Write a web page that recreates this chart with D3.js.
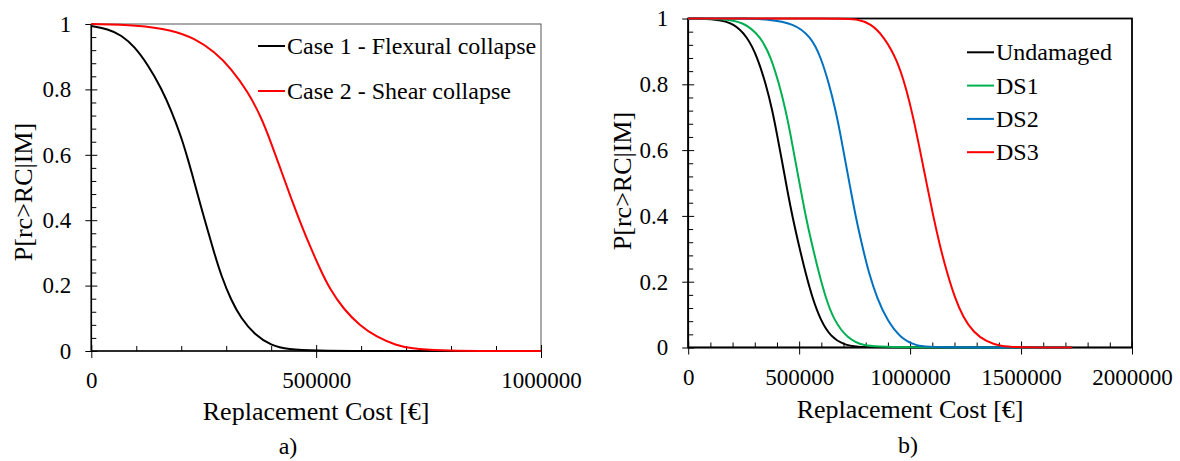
<!DOCTYPE html>
<html>
<head>
<meta charset="utf-8">
<script src="https://cdn.jsdelivr.net/npm/d3@7"></script>
<style>
  html, body { margin: 0; padding: 0; background: #fff; }
  svg { display: block; }
  text { font-family: "Liberation Serif", "Times New Roman", serif; fill: #000; }
</style>
</head>
<body>
<svg id="chart" width="1180" height="461"></svg>
<script>
// ---- Panel a) : exceedance probability of replacement cost, two collapse cases
const costA = [0, 37e3, 67e3, 96e3, 126e3, 156e3, 178e3, 200e3, 215e3, 230e3, 244e3, 259e3, 274e3, 289e3, 311e3, 333e3, 363e3, 400e3, 437e3, 500e3, 600e3, 800e3, 1e6];
const case1 = [0.994, 0.985, 0.966, 0.931, 0.875, 0.803, 0.735, 0.655, 0.586, 0.512, 0.441, 0.368, 0.297, 0.230, 0.155, 0.100, 0.050, 0.017, 0.005, 0.001, 0, 0, 0];

const costA2 = [0, 104e3, 178e3, 230e3, 274e3, 311e3, 348e3, 378e3, 400e3, 422e3, 444e3, 467e3, 489e3, 508e3, 530e3, 561e3, 597e3, 634e3, 679e3, 708e3, 782e3, 850e3, 1e6];
const case2 = [1.0, 0.997, 0.982, 0.956, 0.915, 0.864, 0.793, 0.715, 0.636, 0.552, 0.468, 0.385, 0.312, 0.253, 0.190, 0.128, 0.078, 0.043, 0.017, 0.008, 0.001, 0, 0];

const seriesNamesA = ["Case 1 - Flexural collapse", "Case 2 - Shear collapse"];
const xTicksA = [0, 500000, 1000000];

// ---- Panel b) : exceedance probability by damage state
const costU = [0, 131e3, 206e3, 266e3, 311e3, 349e3, 379e3, 401e3, 424e3, 446e3, 469e3, 499e3, 529e3, 559e3, 597e3, 642e3, 702e3, 762e3, 850e3, 1.73e6];
const undamaged = [1, 0.998, 0.985, 0.945, 0.884, 0.803, 0.722, 0.645, 0.562, 0.480, 0.400, 0.310, 0.226, 0.152, 0.082, 0.033, 0.008, 0.002, 0, 0];

const costD1 = [0, 150e3, 251e3, 326e3, 372e3, 409e3, 439e3, 462e3, 484e3, 507e3, 529e3, 559e3, 589e3, 619e3, 657e3, 717e3, 792e3, 882e3, 1.73e6];
const ds1 = [1, 0.999, 0.990, 0.945, 0.884, 0.803, 0.722, 0.645, 0.563, 0.480, 0.400, 0.310, 0.226, 0.152, 0.082, 0.028, 0.004, 0, 0];

const costD2 = [0, 250e3, 357e3, 477e3, 552e3, 597e3, 634e3, 664e3, 687e3, 709e3, 732e3, 754e3, 784e3, 814e3, 852e3, 897e3, 957e3, 1032e3, 1100e3, 1.73e6];
const ds2 = [1, 1, 0.998, 0.985, 0.945, 0.884, 0.803, 0.722, 0.645, 0.563, 0.480, 0.400, 0.310, 0.226, 0.148, 0.082, 0.028, 0.004, 0, 0];

const costD3 = [0, 702e3, 762e3, 822e3, 882e3, 942e3, 983e3, 1014e3, 1044e3, 1074e3, 1104e3, 1134e3, 1165e3, 1202e3, 1239e3, 1284e3, 1345e3, 1405e3, 1495e3, 1.73e6];
const ds3 = [1, 1, 0.998, 0.985, 0.945, 0.874, 0.786, 0.700, 0.602, 0.500, 0.400, 0.310, 0.230, 0.150, 0.092, 0.047, 0.017, 0.004, 0, 0];

const seriesNamesB = ["Undamaged", "DS1", "DS2", "DS3"];
const xTicksB = [0, 500000, 1000000, 1500000, 2000000];

const yTicks = [0, 0.2, 0.4, 0.6, 0.8, 1];
const yTitle = "P[rc>RC|IM]";
const xTitle = "Replacement Cost [€]";

const svg = d3.select("#chart");
const zip = (xs, ys) => xs.map((x, i) => ({ x, y: ys[i] }));

function drawPanel(opt) {
  const { x, y, frameColor, frameWidth, xTicks, xMinorStep, series, legend, label } = opt;
  const g = svg.append("g");
  const [x0, x1] = x.range();
  const [y0, y1] = y.range();

  // plot frame (top/right)
  g.append("rect")
    .attr("x", x0).attr("y", y1)
    .attr("width", x1 - x0).attr("height", y0 - y1)
    .attr("fill", "none").attr("stroke", frameColor).attr("stroke-width", frameWidth);

  // minor ticks (inside)
  const yMinor = d3.range(0, 1.0001, 0.04).filter(v => Math.abs(Math.round(v * 5) - v * 5) > 1e-6);
  const xMax = x.domain()[1];
  const xMinor = d3.range(0, xMax + 1, xMinorStep).filter(v => !xTicks.includes(v));

  g.append("g").attr("transform", `translate(${x0},0)`)
    .call(d3.axisRight(y).tickValues(yMinor).tickSize(5).tickFormat(""))
    .call(s => s.select(".domain").remove())
    .selectAll("line").attr("stroke", "#000");
  g.append("g").attr("transform", `translate(0,${y0})`)
    .call(d3.axisTop(x).tickValues(xMinor).tickSize(5).tickFormat(""))
    .call(s => s.select(".domain").remove())
    .selectAll("line").attr("stroke", "#000");

  // major y axis with crossing ticks
  const ya = g.append("g").attr("transform", `translate(${x0},0)`)
    .call(d3.axisLeft(y).tickValues(yTicks).tickFormat(d3.format("~g"))
      .tickSizeInner(6).tickSizeOuter(0).tickPadding(14));
  ya.select(".domain").remove();
  ya.selectAll("line").attr("x1", 6).attr("x2", -6).attr("stroke", "#000");
  ya.selectAll("text").attr("font-size", 23).attr("font-family", "Liberation Serif");

  // major x axis with crossing ticks
  const xa = g.append("g").attr("transform", `translate(0,${y0})`)
    .call(d3.axisBottom(x).tickValues(xTicks).tickFormat(d3.format("d"))
      .tickSizeInner(6).tickSizeOuter(0).tickPadding(15));
  xa.select(".domain").remove();
  xa.selectAll("line").attr("y1", -6).attr("y2", 7).attr("stroke", "#000");
  xa.selectAll("text").attr("font-size", 23).attr("font-family", "Liberation Serif");

  // axis lines
  g.append("line").attr("x1", x0).attr("x2", x0).attr("y1", y1).attr("y2", y0)
    .attr("stroke", "#000").attr("stroke-width", 1.6);
  g.append("line").attr("x1", x0).attr("x2", x1).attr("y1", y0).attr("y2", y0)
    .attr("stroke", "#000").attr("stroke-width", 1.6);

  // smooth curves
  const line = d3.line().x(d => x(d.x)).y(d => y(d.y)).curve(d3.curveBasis);
  series.forEach(s => {
    g.append("path").datum(s.data)
      .attr("d", line)
      .attr("fill", "none").attr("stroke", s.color).attr("stroke-width", 2);
  });

  // legend
  series.forEach((s, i) => {
    const ly = legend.y + i * legend.dy;
    g.append("line").attr("x1", legend.x).attr("x2", legend.x + 27)
      .attr("y1", ly).attr("y2", ly).attr("stroke", s.color).attr("stroke-width", 2);
    g.append("text").attr("x", legend.x + 29).attr("y", ly + 8)
      .attr("font-size", 24).text(s.name);
  });

  // axis titles
  const xc = (x0 + x1) / 2;
  g.append("text").attr("x", xc).attr("y", opt.xTitleY)
    .attr("text-anchor", "middle").attr("font-size", 26).text(xTitle);
  g.append("text")
    .attr("transform", `translate(${opt.yTitleX},${opt.yTitleY}) rotate(-90)`)
    .attr("text-anchor", "middle").attr("font-size", 26).text(yTitle);

  // panel label
  g.append("text").attr("x", label.x).attr("y", label.y)
    .attr("text-anchor", "middle").attr("font-size", 24).text(label.text);
}

drawPanel({
  x: d3.scaleLinear().domain([0, 1e6]).range([91.3, 541]),
  y: d3.scaleLinear().domain([0, 1]).range([351, 24]),
  frameColor: "#555", frameWidth: 1,
  xTicks: xTicksA, xMinorStep: 100000,
  series: [
    { name: seriesNamesA[0], color: "#000000", data: zip(costA, case1) },
    { name: seriesNamesA[1], color: "#ff0000", data: zip(costA2, case2) }
  ],
  legend: { x: 258, y: 46, dy: 45 },
  xTitleY: 420, yTitleX: 32, yTitleY: 192,
  label: { x: 288, y: 454, text: "a)" }
});

drawPanel({
  x: d3.scaleLinear().domain([0, 2e6]).range([688.2, 1132]),
  y: d3.scaleLinear().domain([0, 1]).range([347.5, 18.5]),
  frameColor: "#000", frameWidth: 1.8,
  xTicks: xTicksB, xMinorStep: 100000,
  series: [
    { name: seriesNamesB[0], color: "#000000", data: zip(costU, undamaged) },
    { name: seriesNamesB[1], color: "#00b050", data: zip(costD1, ds1) },
    { name: seriesNamesB[2], color: "#0070c0", data: zip(costD2, ds2) },
    { name: seriesNamesB[3], color: "#ff0000", data: zip(costD3, ds3) }
  ],
  legend: { x: 967, y: 52.3, dy: 33.3 },
  xTitleY: 418, yTitleX: 631, yTitleY: 181,
  label: { x: 908, y: 453, text: "b)" }
});
</script>
</body>
</html>
